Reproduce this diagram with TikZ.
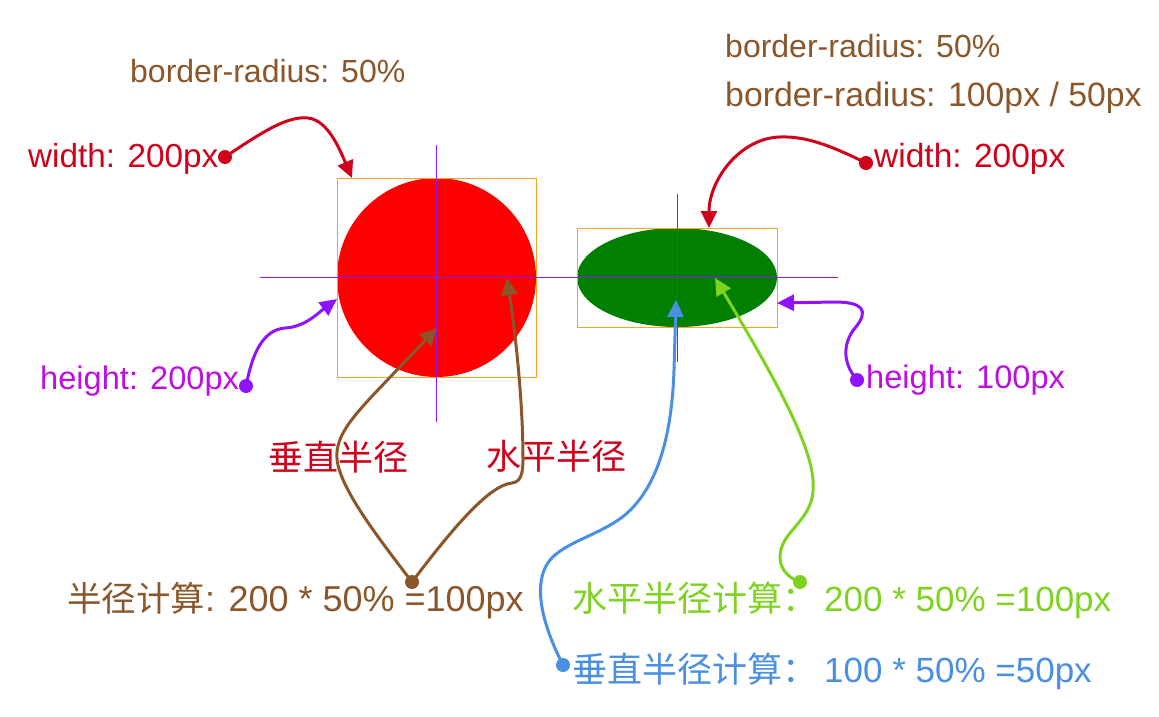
\documentclass[tikz,border=0pt]{standalone}
\usepackage{fontspec}
\setmainfont{Liberation Sans}
\newfontfamily\cjk{Noto Sans CJK SC}
\usetikzlibrary{arrows.meta}
\definecolor{cred}{HTML}{D0021B}
\definecolor{cpurple}{HTML}{9013FE}
\definecolor{cmagenta}{HTML}{BD10E0}
\definecolor{cbrown}{HTML}{8B572A}
\definecolor{cblue}{HTML}{4A90E2}
\definecolor{cgreen}{HTML}{7ED321}
\definecolor{corange}{HTML}{F5A623}
\definecolor{fillred}{HTML}{FF0000}
\definecolor{fillgreen}{HTML}{007F00}
\newcommand\setfs[1]{\fontsize{#1}{#1}\selectfont}
\begin{document}
\begin{tikzpicture}[x=1pt,y=-1pt,
  conn/.style={line width=3pt, -{Triangle[length=17pt,width=16pt]}},
  plain/.style={line width=3pt},
  dotnode/.style={circle, inner sep=0pt, minimum size=14pt, fill=#1},
  lbl/.style={inner sep=0pt, anchor=base west},
  cjklbl/.style={inner sep=0pt, anchor=center},
  guide/.style={draw=cpurple, line width=1pt},
  frame/.style={draw=corange, line width=1pt}]
\useasboundingbox[fill=white] (0,0) rectangle (1159,716);

% shapes
\fill[fillred] (436.5,277.5) circle [radius=99.5];
\fill[fillgreen] (677,277.5) ellipse [x radius=100, y radius=49.5];
\draw[frame] (337,178) rectangle (536,377);
\draw[frame] (577,228) rectangle (777,327);
\draw[guide] (260,277) -- (838,277);
\draw[guide] (436,145) -- (436,422);
\draw[guide] (677,194) -- (677,362);

% labels
\node[lbl, text=cbrown] (brL) at (130,82) {\setfs{32}border-radius: 50\%};
\node[lbl, text=cbrown] (brR1) at (725,57) {\setfs{32}border-radius: 50\%};
\node[lbl, text=cbrown] (brR2) at (725,106) {\setfs{33.8}border-radius: 100px / 50px};
\node[lbl, text=cred] (wL) at (28,167) {\setfs{33.3}width: 200px};
\node[lbl, text=cred] (wR) at (874,167) {\setfs{33.5}width: 200px};
\node[lbl, text=cmagenta] (hL) at (40,389) {\setfs{32.6}height: 200px};
\node[lbl, text=cmagenta] (hR) at (866,388) {\setfs{32.6}height: 100px};
\node[cjklbl, text=cred] (vR) at (338,457) {\cjk\setfs{35}垂直半径};
\node[cjklbl, text=cred] (hRad) at (556,456) {\cjk\setfs{35}水平半径};
\node[lbl, text=cbrown] (calc) at (67,611) {{\cjk\setfs{34.5}半径计算}{\setfs{36}: 200 * 50\% =100px}};
\node[lbl, text=cgreen] (calcH) at (572,611) {{\cjk\setfs{35}水平半径计算：}\hspace{7pt}{\setfs{35}200 * 50\% =100px}};
\node[lbl, text=cblue] (calcV) at (572,682) {{\cjk\setfs{35}垂直半径计算：}\hspace{7pt}{\setfs{35}100 * 50\% =50px}};

% dots
\node[dotnode=cred] (dWL) at (225,157) {};
\node[dotnode=cpurple] (dHL) at (246,386) {};
\node[dotnode=cbrown] (dB) at (412,582) {};
\node[dotnode=cblue] (dBl) at (563,665) {};
\node[dotnode=cgreen] (dG) at (800,582) {};
\node[dotnode=cred] (dWR) at (866,163) {};
\node[dotnode=cpurple] (dHR) at (857,380) {};

% arrow tips
\coordinate (tWL) at (352,178);
\coordinate (tHL) at (337,299);
\coordinate (tB1) at (437,328);
\coordinate (tB2) at (507,278);
\coordinate (tBl) at (676,300);
\coordinate (tG) at (715,278);
\coordinate (tWR) at (709,228);
\coordinate (tHR) at (777,303);

% connectors
\draw[conn, cred] (dWL.center) .. controls (265,130) and (288,116) .. (308,118)
   .. controls (328,120) and (340,150) .. (tWL);
\draw[conn, cpurple] (dHL.center) .. controls (252,355) and (262,330) .. (285,328)
   .. controls (305,327) and (318,313) .. (tHL);
\draw[conn, cbrown] (dB.center) .. controls (380,540) and (345,495) .. (338,465)
   .. controls (332,440) and (350,420) .. (375,393) -- (tB1);
\draw[conn, cbrown] (dB.center) .. controls (455,525) and (490,485) .. (512,483)
   .. controls (520,482) and (523,475) .. (523,460)
   .. controls (523,400) and (515,330) .. (tB2);
\draw[conn, cblue] (dBl.center) .. controls (545,630) and (530,585) .. (550,560)
   .. controls (565,542) and (600,535) .. (625,515)
   .. controls (660,485) and (672,430) .. (674,370) -- (tBl);
\draw[conn, cgreen] (dG.center) .. controls (780,575) and (772,555) .. (790,533)
   .. controls (805,515) and (815,505) .. (813,480)
   .. controls (810,440) and (770,370) .. (tG);
\draw[conn, cred] (dWR.center) .. controls (830,145) and (805,136) .. (780,137)
   .. controls (740,138) and (709,180) .. (tWR);
\draw[conn, cpurple] (dHR.center) .. controls (840,360) and (845,340) .. (855,328)
   .. controls (870,310) and (862,302) .. (835,302) -- (tHR);
\end{tikzpicture}
\end{document}
